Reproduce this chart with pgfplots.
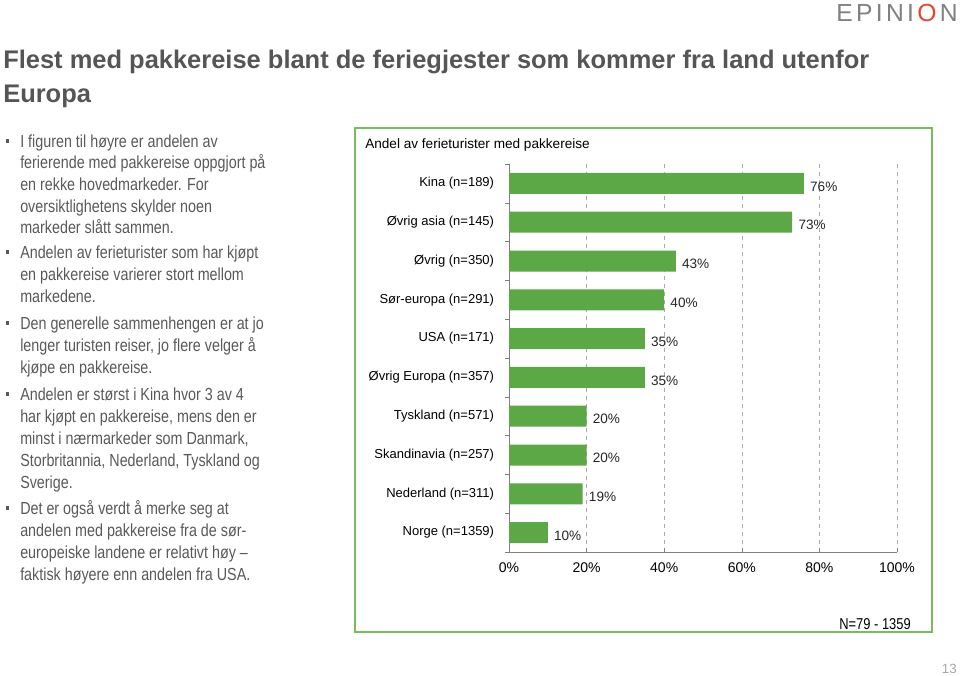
\documentclass[border=0pt]{standalone}
\usepackage{fontspec}
\usepackage{pgfplots}
\pgfplotsset{compat=1.18}
\setmainfont{Liberation Sans}
\newfontfamily\narrow[FakeStretch=0.82]{Liberation Sans}
\definecolor{bargreen}{RGB}{92,168,70}
\definecolor{boxgreen}{RGB}{120,188,92}
\definecolor{txtgray}{RGB}{89,89,89}
\definecolor{titlegray}{RGB}{85,85,85}
\definecolor{gridgray}{RGB}{170,170,170}
\definecolor{logored}{RGB}{226,70,45}
\newcommand\bodyfont{\narrow\fontsize{13.1}{16}\selectfont}
\newcommand\bl[2]{\node[anchor=base west,inner sep=0,text=txtgray,font=\bodyfont] at (20,#1) {#2};}
\newcommand\bul[1]{\fill[txtgray] (5.5,{#1-8}) rectangle (9,{#1-4.5});}
\begin{document}
\begin{tikzpicture}[x=0.75pt,y=-0.75pt]
\path[use as bounding box] (0,0) rectangle (960,675);

% logo and page number
\node[anchor=base east,inner sep=0,text=gray,font=\fontsize{18.5}{20}\selectfont]
  at (958,21) {E\hspace{2.5pt}P\hspace{2.5pt}I\hspace{2.5pt}N\hspace{2.5pt}I\hspace{2.5pt}\textcolor{logored}{O}\hspace{2.5pt}N};
\node[anchor=base east,inner sep=0,text=gray!70,font=\fontsize{10}{11}\selectfont] at (957,673) {13};

% title
\node[anchor=base west,inner sep=0,text=titlegray,font=\bfseries\fontsize{19.1}{24}\selectfont] at (3,68)
  {Flest med pakkereise blant de feriegjester som kommer fra land utenfor};
\node[anchor=base west,inner sep=0,text=titlegray,font=\bfseries\fontsize{19.1}{24}\selectfont] at (3,102) {Europa};

% bullets
\bul{147}
\bl{147}{I figuren til høyre er andelen av}
\bl{168}{ferierende med pakkereise oppgjort på}
\bl{190}{en rekke hovedmarkeder. For}
\bl{212}{oversiktlighetens skylder noen}
\bl{233}{markeder slått sammen.}
\bul{258}
\bl{258}{Andelen av ferieturister som har kjøpt}
\bl{280}{en pakkereise varierer stort mellom}
\bl{302}{markedene.}
\bul{329}
\bl{329}{Den generelle sammenhengen er at jo}
\bl{351}{lenger turisten reiser, jo flere velger å}
\bl{373}{kjøpe en pakkereise.}
\bul{400}
\bl{400}{Andelen er størst i Kina hvor 3 av 4}
\bl{422}{har kjøpt en pakkereise, mens den er}
\bl{444}{minst i nærmarkeder som Danmark,}
\bl{466}{Storbritannia, Nederland, Tyskland og}
\bl{488}{Sverige.}
\bul{514}
\bl{514}{Det er også verdt å merke seg at}
\bl{536}{andelen med pakkereise fra de sør-}
\bl{558}{europeiske landene er relativt høy –}
\bl{580}{faktisk høyere enn andelen fra USA.}

% chart box
\draw[boxgreen,line width=1.5pt] (355,128) rectangle (932,632);
\node[anchor=base west,inner sep=0,font=\fontsize{10.2}{12}\selectfont] at (365,148)
  {Andel av ferieturister med pakkereise};
\node[anchor=base east,inner sep=0,font=\narrow\fontsize{11.8}{13}\selectfont] at (911,629) {N=79 - 1359};

\coordinate (org) at (509,552);
\begin{axis}[
    at={(org)}, anchor=south west,
    width=291pt, height=291pt, scale only axis,
    /pgf/number format/assume math mode=true,
    xbar, bar width=15.75pt, bar shift=0pt,
    xmin=0, xmax=100, ymin=0.5, ymax=10.5,
    axis x line*=bottom, axis y line*=left,
    axis line style={gray},
    xtick={0,20,...,100},
    xticklabel={\pgfmathprintnumber{\tick}\%},
    xtick align=inside, major tick length=3pt,
    xtick style={gray},
    xticklabel style={font=\fontsize{10.5}{12}\selectfont, yshift=-4.5pt},
    xmajorgrids, grid style={gridgray, dashed},
    ytick={1,...,10},
    yticklabels={Norge (n=1359),Nederland (n=311),Skandinavia (n=257),Tyskland (n=571),Øvrig Europa (n=357),USA (n=171),Sør-europa (n=291),Øvrig (n=350),Øvrig asia (n=145),Kina (n=189)},
    ytick style={draw=none},
    minor ytick={0.5,1.5,...,10.5},
    minor y tick style={gray, draw=gray},
    minor tick length=3pt, ytick align=outside,
    yticklabel style={font=\fontsize{9.75}{11}\selectfont, inner sep=0pt, xshift=-8pt},
    point meta=x,
    nodes near coords={\pgfmathprintnumber{\pgfplotspointmeta}\%},
    nodes near coords style={anchor=west, inner sep=0pt, xshift=4.5pt, yshift=-2.25pt,
      font=\fontsize{10.2}{12}\selectfont, text=black!85},
]
\addplot[fill=bargreen, draw=none] coordinates {
    (10,1) (19,2) (20,3) (20,4) (35,5) (35,6) (40,7) (43,8) (73,9) (76,10)
};
\end{axis}
\end{tikzpicture}
\end{document}
